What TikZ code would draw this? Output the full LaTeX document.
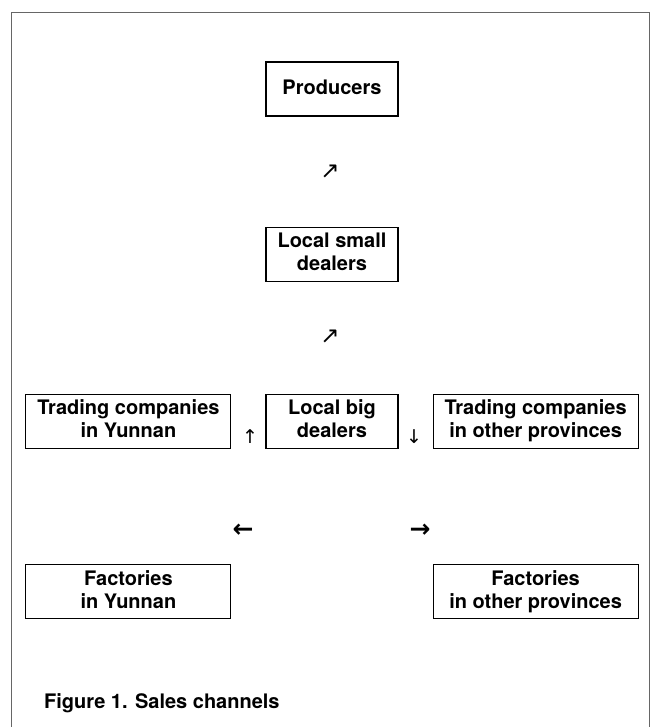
\documentclass[tikz,border=0pt]{standalone}
\usepackage{fontspec}
\setmainfont{TeX Gyre Heros}
\newfontfamily\arrowfont{DejaVu Sans}
\usepackage{tikz}
\usetikzlibrary{positioning}

\begin{document}
\begin{tikzpicture}[
    x=1pt, y=1pt,
    box/.style={rectangle, draw, line width=1.1pt, minimum height=54pt, inner sep=2pt, align=center, font=\fontsize{20}{23}\selectfont\bfseries, execute at end node=\vphantom{p}},
    narrow/.style={box, minimum width=132pt},
    wide/.style={box, minimum width=205pt},
    glyph/.style={inner sep=0pt, font=\arrowfont\fontsize{19}{19}\selectfont},
    slant/.style={glyph, font=\arrowfont\fontsize{23}{23}\selectfont},
    boldglyph/.style={inner sep=0pt, font=\arrowfont\bfseries\fontsize{25}{25}\selectfont},
    frame/.style={draw=black!60, line width=0.8pt}
]
    \useasboundingbox (0,0) rectangle (650,-727);
    \draw[frame] (11,-727) |- (649,-12) -- (649,-727);

    % Top of the chain
    \node[narrow] (prod) at (332,-89) {Producers};
    \node[slant] (up1) at (330,-172) {↗};
    \node[narrow, below=110pt of prod] (small) {Local small\\dealers};
    \node[slant] (up2) at (330,-337) {↗};

    % Middle row
    \node[narrow, below=112pt of small] (big) {Local big\\dealers};
    \node[wide, left=34pt of big] (tradyun) {Trading companies\\in Yunnan};
    \node[wide, right=34pt of big] (tradoth) {Trading companies\\in other provinces};
    \node[glyph] (upl) at (250,-437) {↑};
    \node[glyph] (downr) at (414,-437) {↓};

    % Factories
    \node[boldglyph] (left) at (243,-531) {←};
    \node[boldglyph] (right) at (420,-531) {→};
    \node[wide, below=115pt of tradyun.south west, anchor=north west] (facyun) {Factories\\in Yunnan};
    \node[wide, below=115pt of tradoth.south east, anchor=north east] (facoth) {Factories\\in other provinces};

    % Caption
    \node[anchor=west, inner sep=0pt, font=\fontsize{20}{23}\selectfont\bfseries] (caption) at (44,-703) {Figure 1. Sales channels};
\end{tikzpicture}
\end{document}
